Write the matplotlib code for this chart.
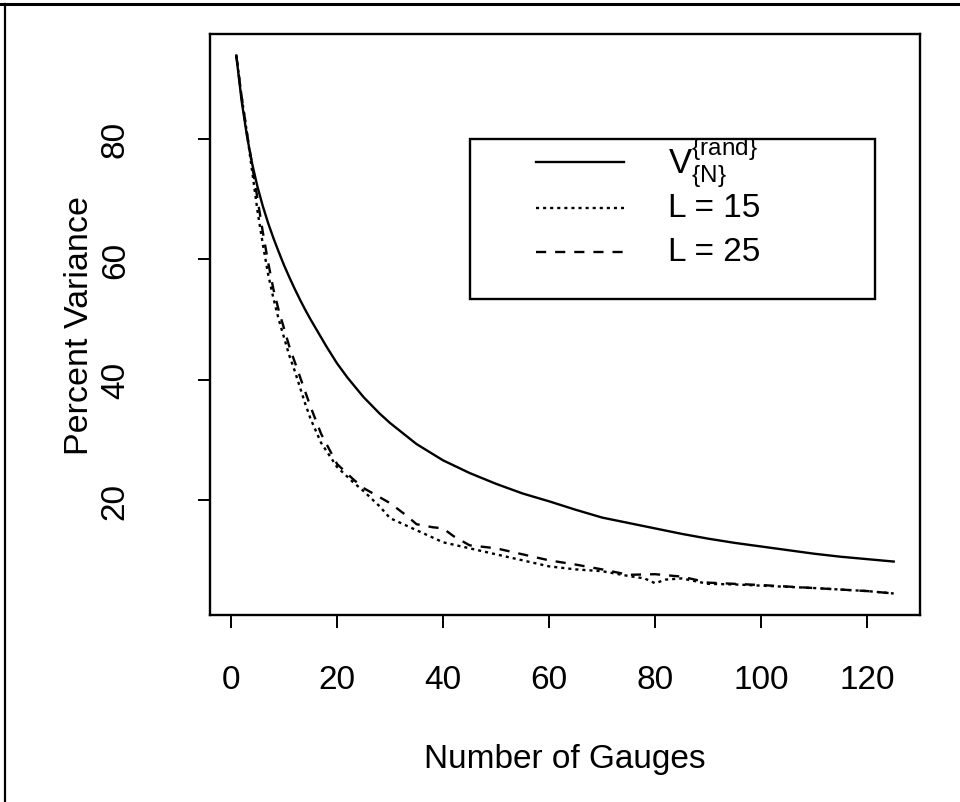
import matplotlib
matplotlib.use("Agg")
import matplotlib.pyplot as plt
from matplotlib.lines import Line2D
from matplotlib.patches import Rectangle

plt.rcParams['font.family'] = ['Liberation Sans', 'DejaVu Sans']
plt.rcParams['mathtext.fontset'] = 'custom'
plt.rcParams['mathtext.rm'] = 'Liberation Sans'

# ---- data ----
n_rand = [1, 2, 3, 4, 5, 6, 7, 8, 9, 10, 11, 12, 13, 14, 15, 16, 18, 20, 22,
          25, 28, 30, 35, 40, 45, 50, 55, 60, 65, 70, 75, 80, 85, 90, 95, 100,
          105, 110, 115, 120, 125]
v_rand = [93.8, 86.3, 80.5, 75.8, 72.0, 68.8, 66.0, 63.5, 61.2, 59.0, 57.0,
          55.1, 53.3, 51.6, 50.0, 48.5, 45.5, 42.7, 40.3, 37.1, 34.4, 32.8,
          29.3, 26.6, 24.5, 22.7, 21.1, 19.8, 18.4, 17.1, 16.2, 15.3, 14.4,
          13.6, 12.9, 12.3, 11.7, 11.1, 10.6, 10.2, 9.8]

n_l15 = [1, 2, 3, 4, 5, 6, 7, 8, 9, 10, 11, 12, 14, 15, 17, 20, 23, 25, 28,
         30, 35, 40, 45, 50, 55, 60, 65, 70, 75, 78, 80, 82, 85, 90, 95, 100,
         110, 120, 125]
v_l15 = [93.8, 87, 81, 74.5, 68, 62.5, 57.5, 53.5, 50, 47, 44, 41.5, 36, 33.5,
         29.5, 25.5, 23, 21.5, 19, 17, 15, 13, 12, 11, 10, 9, 8.5, 8.2, 7.4, 7,
         6.2, 6.8, 7.0, 6.1, 6.0, 5.8, 5.4, 4.9, 4.5]

n_l25 = [1, 2, 3, 4, 5, 6, 7, 8, 9, 10, 11, 12, 14, 15, 17, 20, 23, 25, 28,
         30, 33, 35, 38, 40, 42, 45, 50, 55, 60, 65, 70, 75, 80, 85, 90, 95,
         100, 110, 120, 125]
v_l25 = [93.8, 87, 81, 75.5, 70, 64.5, 59.5, 55, 51.5, 48.5, 45.5, 43, 38,
         35.5, 31, 26, 23.5, 22, 20.5, 19.5, 17.5, 16, 15.5, 15.3, 14, 12.5,
         12, 11, 10, 9.3, 8.5, 7.6, 7.7, 7.3, 6.3, 6.1, 5.9, 5.4, 4.9, 4.5]

x_ticks = [0, 20, 40, 60, 80, 100, 120]
y_ticks = [20, 40, 60, 80]
legend_labels = [r'$\mathregular{V^{\{rand\}}_{\{N\}}}$', 'L = 15', 'L = 25']

W, H = 960, 803
fig = plt.figure(figsize=(W / 100, H / 100), dpi=100)

def fx(px):
    return px / W

def fy(py):
    return 1 - py / H

ax = fig.add_axes([fx(210), fy(616), (920 - 210) / W, (616 - 35) / H])

lw = 1.7
ax.plot(n_rand, v_rand, color='black', lw=lw, solid_joinstyle='round')
ax.plot(n_l15, v_l15, color='black', lw=lw, linestyle=(0, (1.3, 1.7)))
ax.plot(n_l25, v_l25, color='black', lw=lw, linestyle=(0, (4.3, 3.8)))

allx = n_rand + n_l15 + n_l25
ally = v_rand + v_l15 + v_l25
rx = max(allx) - min(allx)
ry = max(ally) - min(ally)
ax.set_xlim(min(allx) - 0.04 * rx, max(allx) + 0.04 * rx)
ax.set_ylim(min(ally) - 0.04 * ry, max(ally) + 0.04 * ry)

ax.set_xticks(x_ticks)
ax.set_yticks(y_ticks)
ax.set_xticklabels([str(t) for t in x_ticks])
ax.set_yticklabels([str(t) for t in y_ticks], rotation=90, va='center')
ax.tick_params(axis='both', direction='out', length=9, width=1.4,
               labelsize=24, colors='black')
ax.tick_params(axis='x', pad=26)
ax.tick_params(axis='y', pad=48)
for s in ax.spines.values():
    s.set_linewidth(1.7)

ax.set_xlabel('Number of Gauges', fontsize=24)
ax.set_ylabel('Percent Variance', fontsize=24.5)
ax.xaxis.set_label_coords(0.5, (616 - 760) / 581)
ax.xaxis.label.set_va('center')
ax.yaxis.set_label_coords((80 - 210) / 710, 0.5)
ax.yaxis.label.set_va('center')

# legend drawn in figure pixel space
fig.add_artist(Rectangle((fx(470), fy(300)), (875 - 470) / W, (300 - 140) / H,
                         transform=fig.transFigure, fill=False,
                         edgecolor='black', lw=1.7))
styles = ['-', (0, (1.3, 1.7)), (0, (4.3, 3.8))]
rows = [163, 209, 253]
sizes = [25, 24, 24]
for st, ry_, lab, fs in zip(styles, rows, legend_labels, sizes):
    fig.add_artist(Line2D([fx(536), fx(624)], [fy(ry_), fy(ry_)],
                          transform=fig.transFigure, color='black', lw=lw,
                          linestyle=st))
    fig.text(fx(668), fy(ry_), lab, fontsize=fs, va='center', ha='left')

# outer frame (top and left)
fig.add_artist(Line2D([0, 1], [fy(5), fy(5)], transform=fig.transFigure,
                      color='black', lw=2.2))
fig.add_artist(Line2D([fx(5), fx(5)], [0, fy(5)], transform=fig.transFigure,
                      color='black', lw=1.6))

fig.savefig('out.png', dpi=100, facecolor='white')
